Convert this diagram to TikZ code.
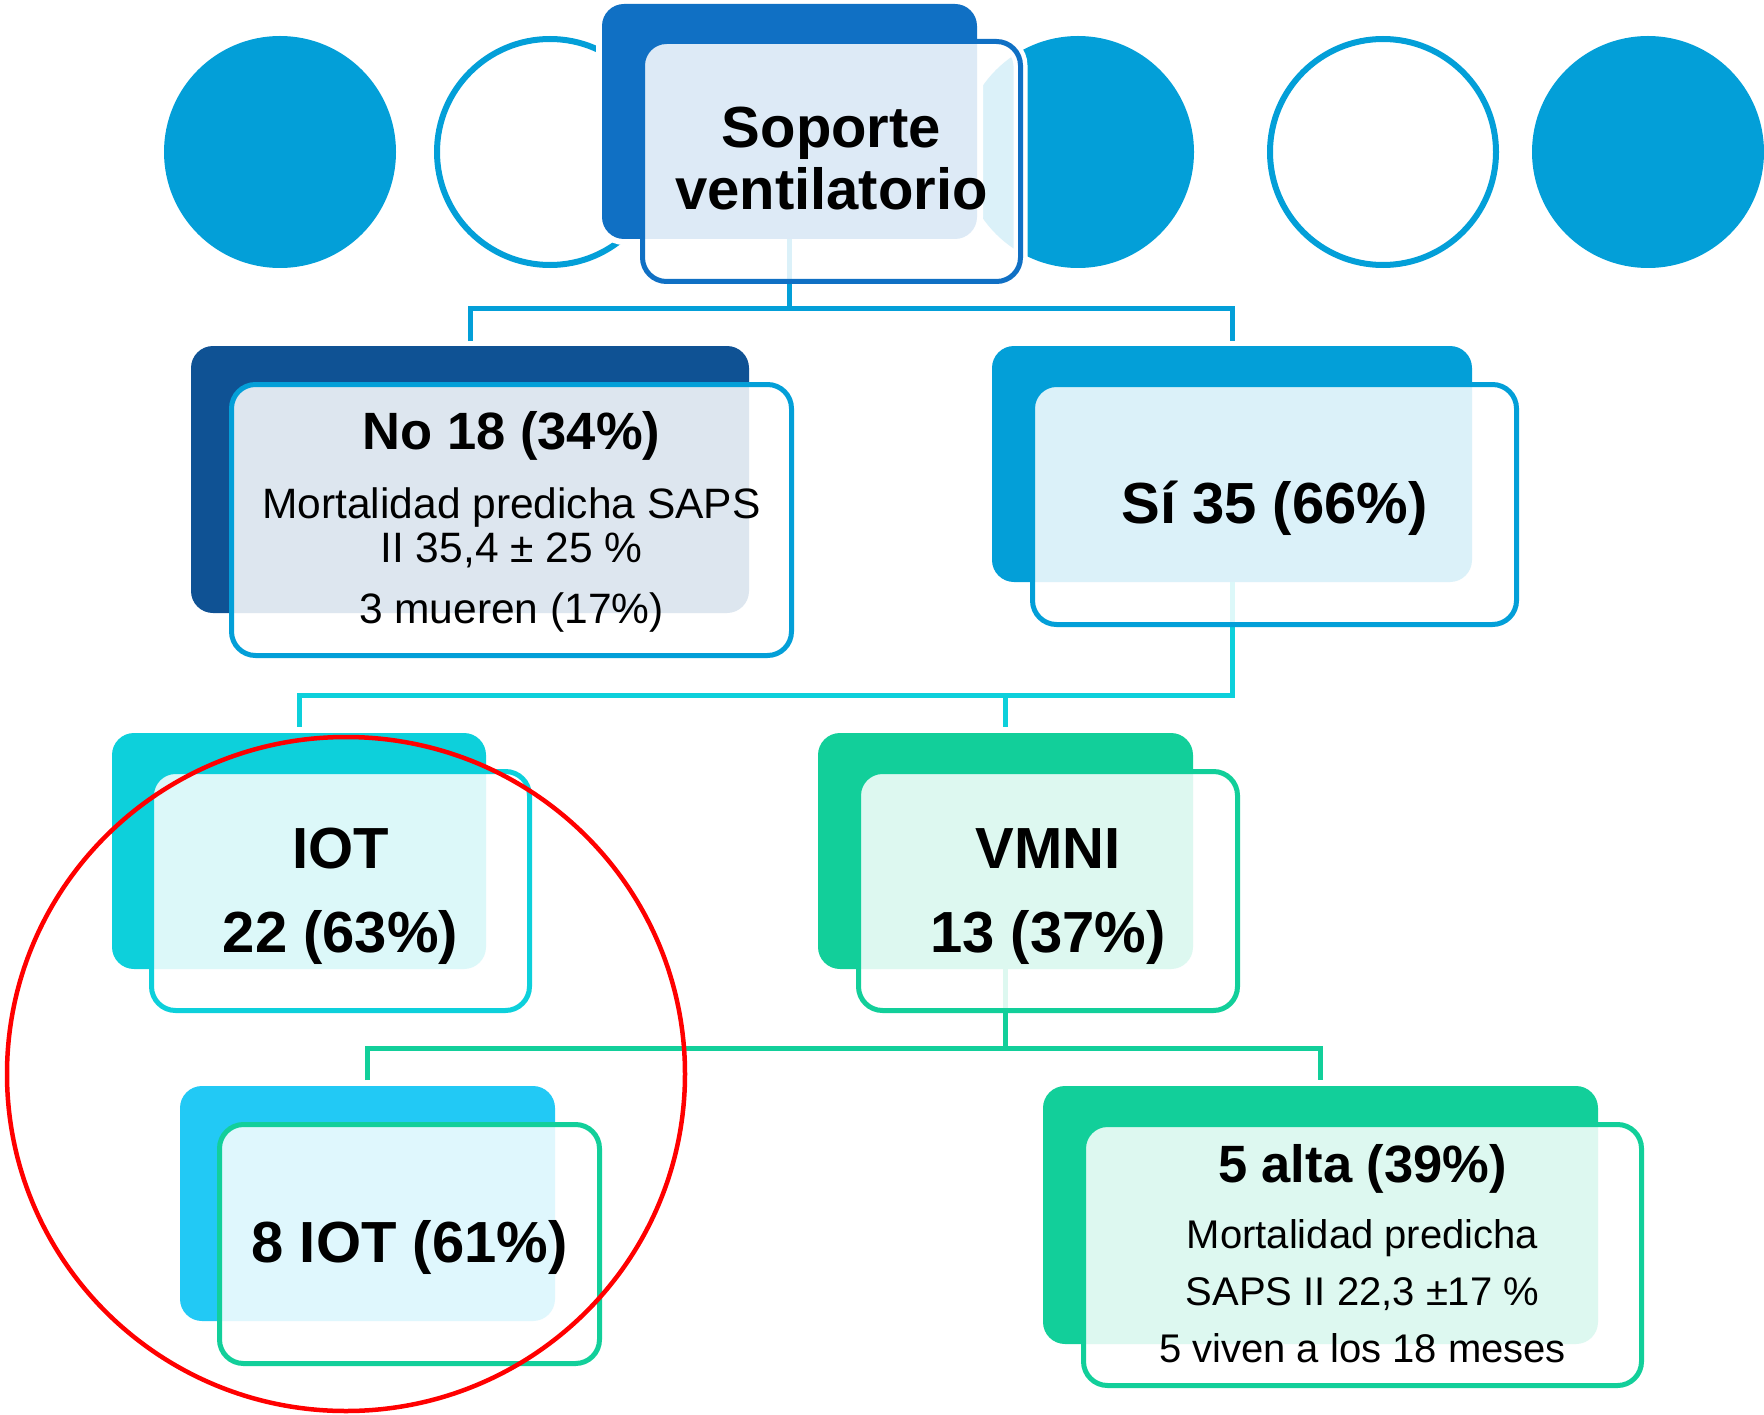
\documentclass[tikz,border=0pt]{standalone}
\usepackage{fontspec}
\setmainfont{Liberation Sans}
\definecolor{topblue}{HTML}{1070C4}
\definecolor{navy}{HTML}{0F5294}
\definecolor{skyblue}{HTML}{039FD8}
\definecolor{turq}{HTML}{0DD0DB}
\definecolor{mint}{HTML}{12CF9A}
\definecolor{brightcyan}{HTML}{22C9F5}
\tikzset{
  backbox/.style={fill=#1, rounded corners=22pt, inner sep=0pt, outer sep=0pt},
  frontbox/.style={draw=#1, line width=5pt, fill=white, fill opacity=0.86, rounded corners=24pt, inner sep=0pt, outer sep=0pt},
  conn/.style={draw=#1, line width=5pt},
  ttl/.style={anchor=base, inner sep=0pt, font=\fontsize{58}{60}\selectfont\bfseries},
  ttlsmall/.style={anchor=base, inner sep=0pt, font=\fontsize{52.5}{56}\selectfont\bfseries},
  sub/.style={anchor=base, inner sep=0pt, font=\fontsize{42.5}{44}\selectfont},
  subb/.style={anchor=base, inner sep=0pt, font=\fontsize{40}{44}\selectfont},
}
\begin{document}
\begin{tikzpicture}[x=1pt,y=-1pt]
\useasboundingbox (0,0) rectangle (1764,1415);
% decorative circles
\fill[skyblue] (280,152) circle[radius=116pt];
\draw[skyblue, line width=6pt] (550,152) circle[radius=113pt];
\fill[skyblue] (1078,152) circle[radius=116pt];
\draw[skyblue, line width=6pt] (1383,152) circle[radius=113pt];
\fill[skyblue] (1648,152) circle[radius=116pt];
% white halo of the top box
\draw[white, line width=14pt, rounded corners=24pt] (642.5,41.5) rectangle (1020.5,281.5);
% back boxes
\node[backbox=topblue, preaction={draw=white, line width=12pt}, minimum width=375pt, minimum height=235pt] (topback) at (789.5,121.5) {};
\node[backbox=navy, minimum width=558pt, minimum height=267pt] (noback) at (470,479.5) {};
\node[backbox=skyblue, minimum width=480pt, minimum height=236pt] (siback) at (1232,464) {};
\node[backbox=turq, minimum width=374pt, minimum height=236pt] (iotback) at (299,851) {};
\node[backbox=mint, minimum width=375pt, minimum height=236pt] (vmniback) at (1005.5,851) {};
\node[backbox=brightcyan, minimum width=375pt, minimum height=235pt] (iotbback) at (367.5,1203.5) {};
\node[backbox=mint, minimum width=555pt, minimum height=258pt] (altaback) at (1320.5,1215) {};
% connectors
\coordinate (b1) at (789.5,309);
\coordinate (b2) at (1232,695);
\coordinate (b3) at (1005.5,1048);
\draw[conn=skyblue] (topback.south) -- (b1);
\draw[conn=skyblue, shorten <=5pt, shorten >=5pt] (noback.north) -- (noback.north |- b1) -- (siback.north |- b1) -- (siback.north);
\draw[conn=turq, shorten >=6pt] (siback.south) -- (b2) -- (iotback.north |- b2) -- (iotback.north);
\draw[conn=turq, shorten >=6pt] (vmniback.north |- b2) -- (vmniback.north);
\draw[conn=mint] (vmniback.south) -- (b3);
\draw[conn=mint, shorten <=6pt, shorten >=6pt] (iotbback.north) -- (iotbback.north |- b3) -- (altaback.north |- b3) -- (altaback.north);
% front boxes
\node[frontbox=topblue, minimum width=378pt, minimum height=240pt] (topfront) at (831.5,161.5) {};
\node[frontbox=skyblue, minimum width=560pt, minimum height=271pt] (nofront) at (511.5,520) {};
\node[frontbox=skyblue, minimum width=484pt, minimum height=240pt] (sifront) at (1274.5,504.5) {};
\node[frontbox=turq, minimum width=378pt, minimum height=239pt] (iotfront) at (340.5,891) {};
\node[frontbox=mint, minimum width=379pt, minimum height=239pt] (vmnifront) at (1048,891) {};
\node[frontbox=mint, minimum width=380pt, minimum height=239pt] (iotbfront) at (409.5,1244) {};
\node[frontbox=mint, minimum width=558pt, minimum height=261pt] (altafront) at (1362.5,1255) {};
% texts
\node[ttl] (toptxta) at (831.5,148) {Soporte};
\node[ttl] (toptxtb) at (831.5,210) {ventilatorio};
\node[ttlsmall] (notxta) at (511.5,449) {No 18 (34\%)};
\node[sub] (notxtb) at (511.5,518) {Mortalidad predicha SAPS};
\node[sub] (notxtc) at (511.5,562) {II 35,4 ± 25 \%};
\node[sub] (notxtd) at (511.5,623) {3 mueren (17\%)};
\node[ttl] (sitxt) at (1274.5,523) {Sí 35 (66\%)};
\node[ttl] (iottxta) at (340.5,868) {IOT};
\node[ttl] (iottxtb) at (340.5,952) {22 (63\%)};
\node[ttl] (vmnitxta) at (1048,868) {VMNI};
\node[ttl] (vmnitxtb) at (1048,952) {13 (37\%)};
\node[ttl] (iotbtxt) at (409.5,1262) {8 IOT (61\%)};
\node[ttlsmall] (altatxta) at (1362.5,1182) {5 alta (39\%)};
\node[subb] (altatxtb) at (1362.5,1248) {Mortalidad predicha};
\node[subb] (altatxtc) at (1362.5,1305) {SAPS II 22,3 ±17 \%};
\node[subb] (altatxtd) at (1362.5,1362) {5 viven a los 18 meses};
% red highlight
\draw[red, line width=4.5pt] (346,1074) ellipse[x radius=339pt, y radius=337pt];
\end{tikzpicture}
\end{document}
